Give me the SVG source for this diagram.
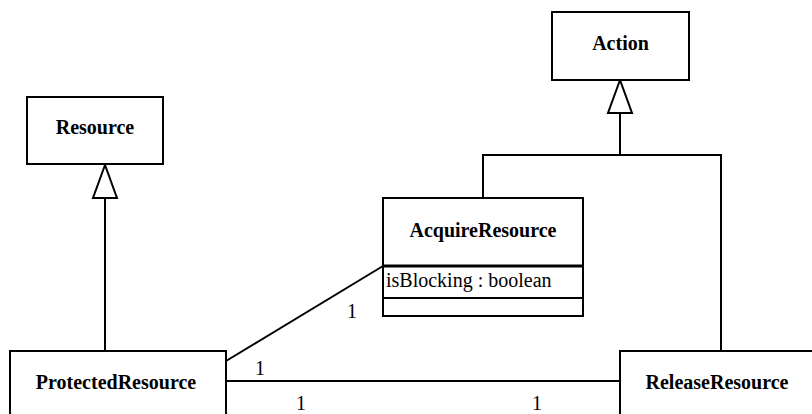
<svg xmlns="http://www.w3.org/2000/svg" width="812" height="414" viewBox="0 0 812 414">
  <style>
    .box { fill: #ffffff; stroke: #000000; stroke-width: 2; }
    .sep { stroke: #000000; stroke-width: 3; }
    .sep2 { stroke: #000000; stroke-width: 2; }
    .edge { fill: none; stroke: #000000; stroke-width: 2; }
    .head { fill: #ffffff; stroke: #000000; stroke-width: 2; stroke-linejoin: miter; }
    .name { font-family: "Liberation Serif", "Times New Roman", serif; font-size: 20px; font-weight: bold; text-anchor: middle; fill: #000000; }
    .attr { font-family: "Liberation Serif", "Times New Roman", serif; font-size: 20px; fill: #000000; }
    .mult { font-family: "Liberation Serif", "Times New Roman", serif; font-size: 20px; text-anchor: middle; fill: #000000; }
  </style>
  <rect width="812" height="414" fill="#ffffff"/>

  <g id="connectors">
    <!-- generalization: ProtectedResource -> Resource -->
    <line class="edge" x1="105" y1="198" x2="105" y2="351"/>
    <polygon class="head" points="105,165 93,198 117,198"/>
    <!-- generalization: AcquireResource / ReleaseResource -> Action -->
    <polyline class="edge" points="483,198 483,155 721,155 721,351"/>
    <line class="edge" x1="620" y1="113" x2="620" y2="155"/>
    <polygon class="head" points="620,80 608,113 632,113"/>
    <!-- associations -->
    <line class="edge" x1="226" y1="361" x2="383" y2="266"/>
    <line class="edge" x1="226" y1="381" x2="620" y2="381"/>
    <text class="mult" x="352" y="318">1</text>
    <text class="mult" x="260" y="375">1</text>
    <text class="mult" x="301" y="410">1</text>
    <text class="mult" x="537" y="410">1</text>
  </g>

  <g id="Action">
    <rect class="box" x="552" y="12" width="137" height="68"/>
    <text class="name" x="620.5" y="50">Action</text>
  </g>

  <g id="Resource">
    <rect class="box" x="27" y="97" width="136" height="67"/>
    <text class="name" x="95" y="134">Resource</text>
  </g>

  <g id="AcquireResource">
    <rect class="box" x="383" y="198" width="200" height="118"/>
    <line class="sep" x1="383" y1="266" x2="583" y2="266"/>
    <line class="sep2" x1="383" y1="298" x2="583" y2="298"/>
    <text class="name" x="483" y="237">AcquireResource</text>
    <text class="attr" x="386" y="287">isBlocking : boolean</text>
  </g>

  <g id="ProtectedResource">
    <rect class="box" x="10" y="351" width="216" height="100"/>
    <text class="name" x="116" y="389">ProtectedResource</text>
  </g>

  <g id="ReleaseResource">
    <rect class="box" x="620" y="351" width="220" height="100"/>
    <text class="name" x="717" y="389">ReleaseResource</text>
  </g>
</svg>
